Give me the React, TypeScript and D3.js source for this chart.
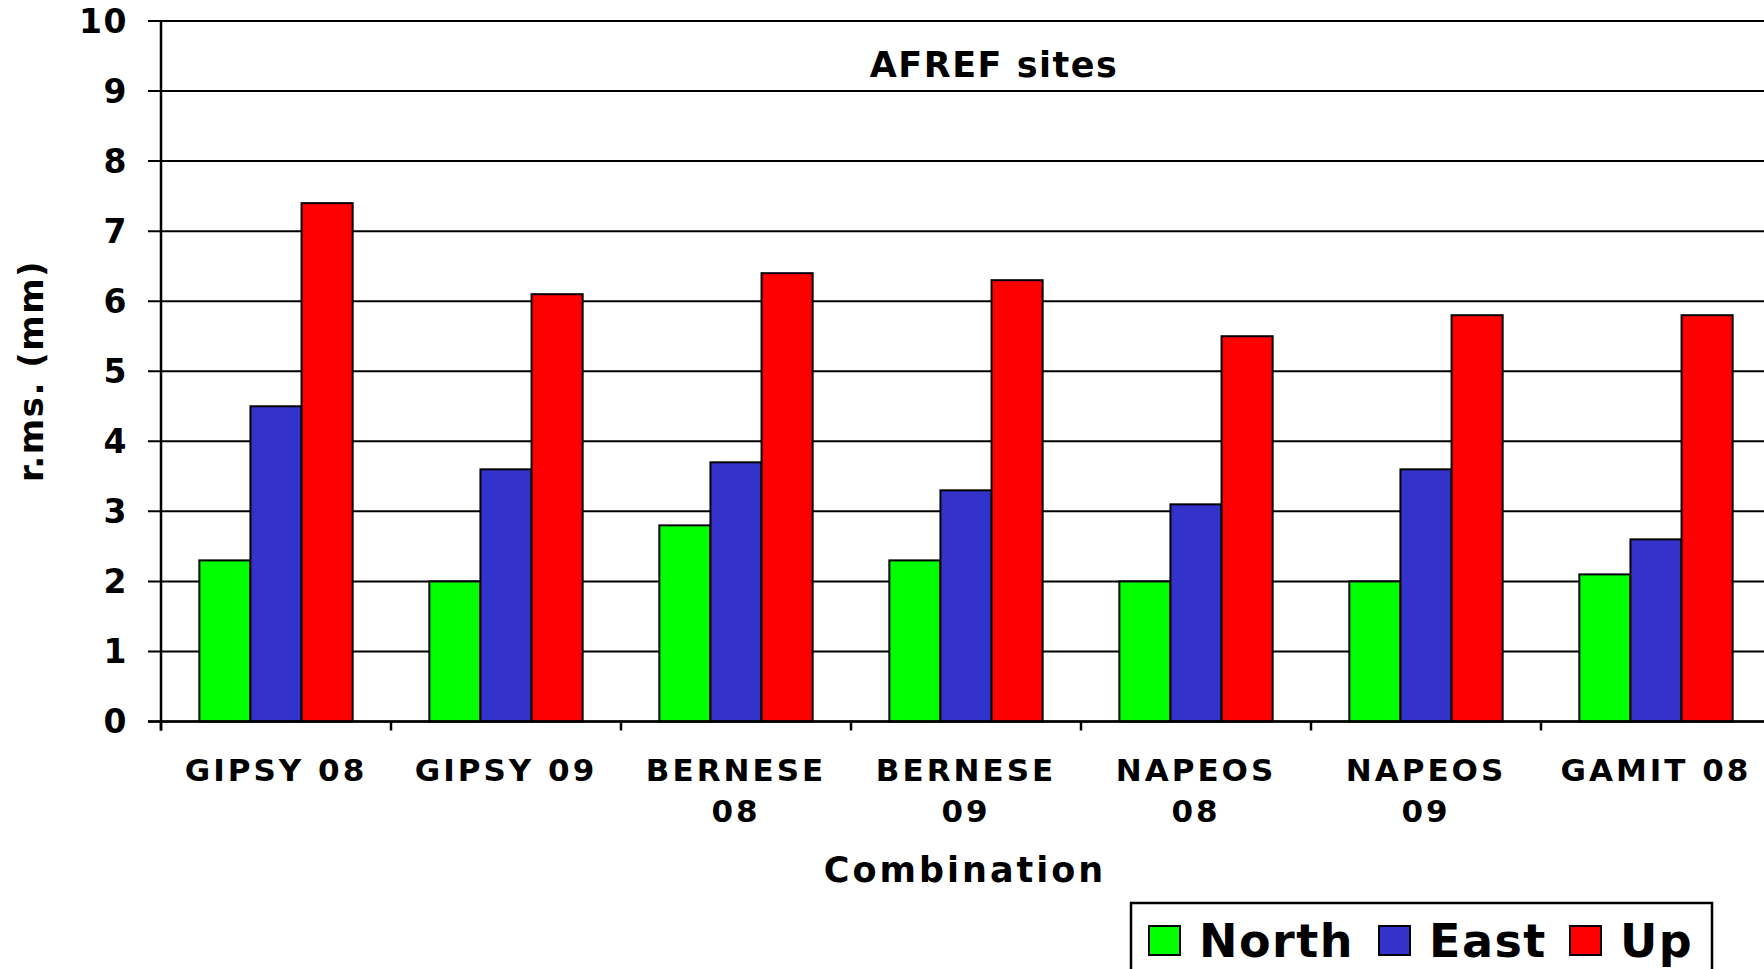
import React from "react";
import * as d3 from "d3";

const categories = [
  ["GIPSY 08"],
  ["GIPSY 09"],
  ["BERNESE", "08"],
  ["BERNESE", "09"],
  ["NAPEOS", "08"],
  ["NAPEOS", "09"],
  ["GAMIT 08"],
];
const seriesNames = ["North", "East", "Up"];
const seriesColors = ["#00FF00", "#3333CC", "#FF0000"];
const north = [2.3, 2.0, 2.8, 2.3, 2.0, 2.0, 2.1];
const east = [4.5, 3.6, 3.7, 3.3, 3.1, 3.6, 2.6];
const up = [7.4, 6.1, 6.4, 6.3, 5.5, 5.8, 5.8];
const yTicks = [0, 1, 2, 3, 4, 5, 6, 7, 8, 9, 10];

const W = 1764;
const H = 969;
const left = 161;
const top = 21;
const bottom = 721.5;
const step = 230;
const font = "'DejaVu Sans', Verdana, sans-serif";

export default function App() {
  const values = [north, east, up];
  const catKeys = categories.map((c) => c.join(" "));
  const x = d3.scaleBand().domain(catKeys).range([left, left + step * catKeys.length]).padding(0);
  const bw = x.bandwidth() / 4.5;
  const inner = d3.scaleBand().domain(seriesNames).range([bw * 0.75, bw * 3.75]).padding(0);
  const y = d3.scaleLinear().domain([0, 10]).range([bottom, top]);

  return (
    <svg width={W} height={H} style={{ display: "block", position: "absolute", left: 0, top: 0 }}>
      <rect x={0} y={0} width={W} height={H} fill="#fff" />
      {yTicks.map((t) => (
        <line key={"g" + t} x1={left - 13} x2={W + 20} y1={y(t)} y2={y(t)} stroke="#000" strokeWidth={2} />
      ))}
      {catKeys.map((c, i) => (
        <g key={c}>
          {seriesNames.map((s, j) => (
            <rect
              key={s}
              x={(x(c) as number) + (inner(s) as number)}
              y={y(values[j][i])}
              width={inner.bandwidth()}
              height={y(0) - y(values[j][i])}
              fill={seriesColors[j]}
              stroke="#000"
              strokeWidth={2}
            />
          ))}
        </g>
      ))}
      <line x1={left} x2={left} y1={top} y2={bottom + 9} stroke="#000" strokeWidth={2.5} />
      <line x1={left - 13} x2={W + 20} y1={bottom} y2={bottom} stroke="#000" strokeWidth={2.5} />
      {catKeys.map((c, i) => (
        <line key={"t" + i} x1={x(c) as number} x2={x(c) as number} y1={bottom} y2={bottom + 9} stroke="#000" strokeWidth={2.5} />
      ))}
      {yTicks.map((t) => (
        <text key={"l" + t} x={128} y={y(t)} dy="0.36em" textAnchor="end" fontFamily={font} fontWeight="bold" fontSize={33} letterSpacing={1.5}>
          {t}
        </text>
      ))}
      {categories.map((lines, i) => (
        <text key={"x" + i} textAnchor="middle" fontFamily={font} fontWeight="bold" fontSize={31} letterSpacing={3}>
          {lines.map((ln, k) => (
            <tspan key={k} x={(x(catKeys[i]) as number) + step / 2} y={781 + k * 41}>
              {ln}
            </tspan>
          ))}
        </text>
      ))}
      <text x={994} y={77} textAnchor="middle" fontFamily={font} fontWeight="bold" fontSize={35} letterSpacing={1.5}>
        AFREF sites
      </text>
      <text x={965} y={882} textAnchor="middle" fontFamily={font} fontWeight="bold" fontSize={35} letterSpacing={3}>
        Combination
      </text>
      <text transform={`translate(43,371) rotate(-90)`} textAnchor="middle" fontFamily={font} fontWeight="bold" fontSize={34} letterSpacing={1.5}>
        r.ms. (mm)
      </text>
      <rect x={1131} y={903} width={581} height={90} fill="#fff" stroke="#000" strokeWidth={2.5} />
      {seriesNames.map((s, j) => {
        const sx = [1149, 1379, 1570][j];
        const tx = [1199, 1429, 1620][j];
        return (
          <g key={"lg" + s}>
            <rect x={sx} y={926} width={31} height={29} fill={seriesColors[j]} stroke="#000" strokeWidth={2} />
            <text x={tx} y={957} fontFamily={font} fontWeight="bold" fontSize={46} letterSpacing={1.5}>
              {s}
            </text>
          </g>
        );
      })}
    </svg>
  );
}
